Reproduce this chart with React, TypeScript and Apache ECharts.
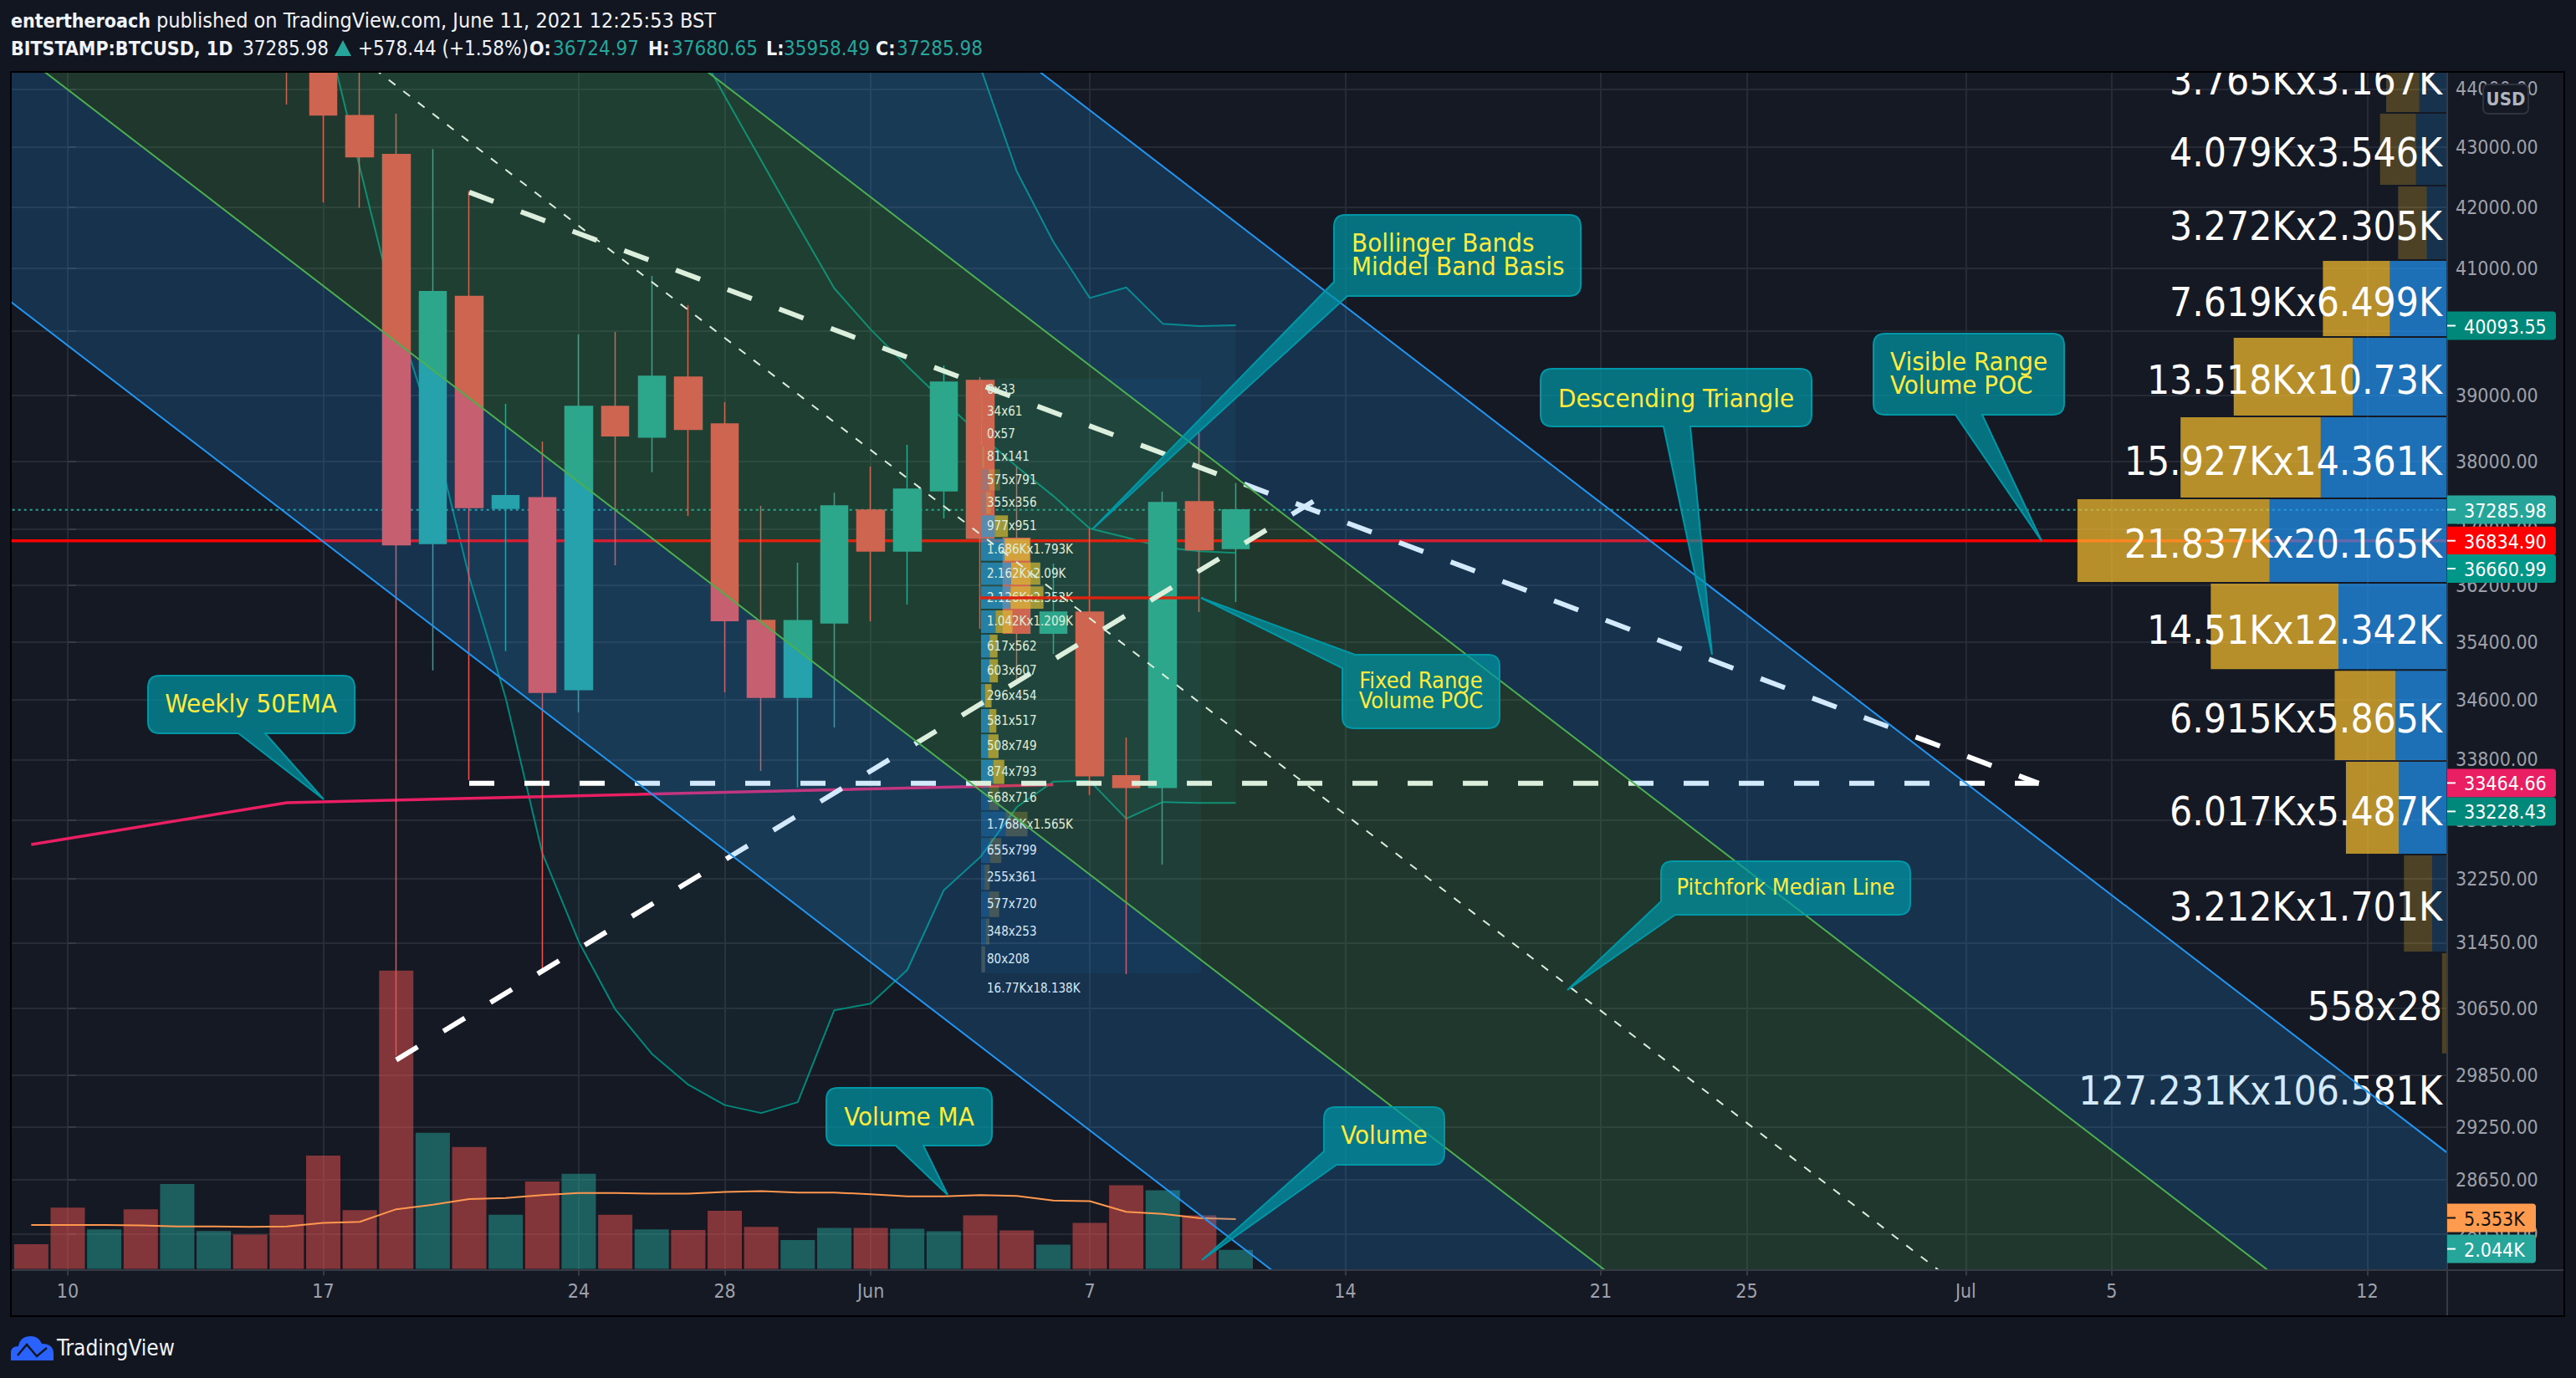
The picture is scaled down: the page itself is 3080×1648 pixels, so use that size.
import React, { useEffect, useRef } from "react";
import * as echarts from "echarts";

const FONT = "DejaVu Sans Condensed, DejaVu Sans, sans-serif";

// x axis: days counted from 10 May 2021
const xTickDays = [0, 7, 14, 18, 22, 28, 35, 42, 46, 52, 56, 63];
const xTickLabels = ["10", "17", "24", "28", "Jun", "7", "14", "21", "25", "Jul", "5", "12"];
const priceTicks = [44000, 43000, 42000, 41000, 40000, 39000, 38000, 37000, 36200, 35400, 34600, 33800, 33000, 32250, 31450, 30650, 29850, 29250, 28650, 28050];
const priceTickLabels = [44000, 43000, 42000, 41000, 39000, 38000, 37000, 36200, 35400, 34600, 33800, 33000, 32250, 31450, 30650, 29850, 29250, 28650, 28050];

// candles
const candleDays = [6, 7, 8, 9, 10, 11, 12, 13, 14, 15, 16, 17, 18, 19, 20, 21, 22, 23, 24, 25, 26, 27, 28, 29, 30, 31, 32];
const opens = [46700, 46400, 43540, 42878, 36795, 40552, 37307, 37466, 34740, 38835, 38369, 39285, 38568, 35700, 34636, 35665, 37283, 36687, 37565, 39233, 36873, 35522, 35817, 33583, 33429, 37405, 36724.97];
const highs = [49000, 46650, 45700, 43573, 42972, 42266, 38874, 38303, 39948, 39987, 40879, 40410, 38899, 37344, 36519, 37540, 37926, 38253, 39467, 39285, 37926, 36507, 37015, 34093, 37553, 38442, 37680.65];
const lows = [43730, 42080, 41990, 30086, 35006, 33530, 35272, 31120, 34431, 36483, 37843, 37198, 34705, 33649, 33429, 34227, 35687, 35924, 37161, 35581, 34840, 35233, 33330, 31063, 32430, 35817, 35958.49];
const closes = [46400, 43550, 42840, 36778, 40627, 37320, 37494, 34705, 38835, 38386, 39298, 38487, 35696, 34636, 35696, 37344, 36687, 37590, 39207, 36873, 35522, 35817, 33583, 33429, 37393, 36704, 37285.98];

// volume
const volumeDays = [-1, 0, 1, 2, 3, 4, 5, 6, 7, 8, 9, 10, 11, 12, 13, 14, 15, 16, 17, 18, 19, 20, 21, 22, 23, 24, 25, 26, 27, 28, 29, 30, 31, 32];
const volumeValues = [2666, 6584, 4245, 6420, 9142, 4080, 3700, 5822, 12190, 6312, 32105, 14640, 13112, 5822, 9414, 10230, 5822, 4245, 4190, 6258, 4516, 3100, 4410, 4410, 4320, 4050, 5760, 4140, 2610, 4950, 9000, 8460, 5760, 2044];
const volumeSides = "rrgrggrrrrrgrgrgrgrrrggrggrrgrrgrg".split("");
const volumeMA = [4734, 4734, 4734, 4680, 4570, 4570, 4516, 4570, 4950, 5060, 6420, 6910, 7510, 7620, 7944, 8160, 8160, 8107, 8107, 8270, 8380, 8216, 8216, 8040, 7800, 7800, 7950, 7860, 7350, 7290, 6150, 5910, 5460, 5353];

// bollinger bands
const bbDays = [7, 8, 9, 10, 11, 12, 13, 14, 15, 16, 17, 18, 19, 20, 21, 22, 23, 24, 25, 26, 27, 28, 29, 30, 31, 32];
const bbUpper = [65000, 66000, 67000, 66500, 65500, 65000, 64000, 62000, 60000, 57000, 55000, 53000, 51500, 50000, 49000, 48000, 47500, 47000, 44382, 42594, 41434, 40526, 40694, 40118, 40079, 40093.55];
const bbBasis = [55500, 54500, 53500, 52500, 51500, 50500, 49500, 48400, 47320, 46170, 45030, 43875, 42776, 41706, 40681, 40026, 39454, 38912, 38404, 37926, 37491, 37015, 36885, 36742, 36683, 36660.99];
const bbLower = [45266, 42664, 40260, 38492, 36314, 34625, 32580, 31463, 30636, 30106, 29742, 29504, 29412, 29538, 30626, 30706, 31115, 32105, 32526, 33172, 33506, 33517, 33021, 33239, 33228, 33228.43];

// weekly EMA
const emaDays = [-1, 6, 13, 20, 27];
const emaValues = [32687, 33231, 33310, 33390, 33464.66];

// pitchfork
const forkDays = [-2, 66];
const forkLowerOuter = [40663, 19215];
const forkLowerInner = [44968, 21249];
const forkMedian = [49735, 23502];
const forkUpperInner = [54936, 25959];
const forkUpperOuter = [60734, 28699];

// drawn lines
const fallingDays = [11, 54];
const fallingPrices = [42247, 33484];
const flatDays = [11, 54];
const flatPrices = [33484, 33484];
const risingDays = [9, 34.14];
const risingPrices = [30033, 37417];
const lastPrice = 37285.98;
const visiblePOC = 36834.9;
const fixedPOC = 36019;
const fixedPOCDays = [25, 31];

// visible range volume profile
const visibleEdges = [44810, 43586, 42358, 41135, 39909, 38682, 37455, 36231, 35012, 33781, 32559, 31331, 30100];
const visibleUp = [3167, 3546, 2305, 6499, 10730, 14361, 20165, 12342, 5865, 5487, 1701, 28];
const visibleDown = [3765, 4079, 3272, 7619, 13518, 15927, 21837, 14510, 6915, 6017, 3212, 558];
const visibleLabels = ["3.765Kx3.167K", "4.079Kx3.546K", "3.272Kx2.305K", "7.619Kx6.499K", "13.518Kx10.73K", "15.927Kx14.361K", "21.837Kx20.165K", "14.51Kx12.342K", "6.915Kx5.865K", "6.017Kx5.487K", "3.212Kx1.701K", "558x28"];
const visibleBright = [0, 0, 0, 1, 1, 1, 1, 1, 1, 1, 0, 0];
const visibleTotal = "127.231Kx106.581K";
const visibleTotalPrice = 29674;

// fixed range volume profile
const fixedEdges = [39265, 38924, 38583, 38241, 37900, 37559, 37218, 36877, 36535, 36194, 35853, 35512, 35171, 34829, 34488, 34147, 33806, 33465, 33123, 32782, 32441, 32100, 31759, 31417, 31076];
const fixedUp = [0, 34, 0, 81, 575, 355, 977, 1686, 2162, 2126, 1042, 617, 603, 296, 581, 508, 874, 568, 1768, 655, 255, 577, 348, 80];
const fixedDown = [33, 61, 57, 141, 791, 356, 951, 1793, 2090, 2352, 1209, 562, 607, 454, 517, 749, 793, 716, 1565, 799, 361, 720, 253, 208];
const fixedLabels = ["0x33", "34x61", "0x57", "81x141", "575x791", "355x356", "977x951", "1.686Kx1.793K", "2.162Kx2.09K", "2.126Kx2.352K", "1.042Kx1.209K", "617x562", "603x607", "296x454", "581x517", "508x749", "874x793", "568x716", "1.768Kx1.565K", "655x799", "255x361", "577x720", "348x253", "80x208"];
const fixedBright = [0, 0, 0, 0, 0, 0, 1, 1, 1, 1, 1, 1, 1, 1, 1, 1, 1, 0, 0, 0, 0, 0, 0, 0];
const fixedTotal = "16.77Kx18.138K";
const fixedTotalPrice = 30890;
const fixedBoxVolume = 15780;

// price tags
const tagTexts = ["40093.55", "37285.98", "36834.90", "36660.99", "33464.66", "33228.43", "5.353K", "2.044K"];
const tagColors = ["#00897b", "#26a69a", "#ff0000", "#009688", "#e91e63", "#00897b", "#ff9b4e", "#26a69a"];
const tagInk = ["#fff", "#fff", "#fff", "#fff", "#fff", "#fff", "#111", "#fff"];
const tagY = [389.5, 609.5, 646.7, 680, 936.4, 970.4, 1456.5, 1493.6];
const tagRight = [3056, 3056, 3056, 3056, 3056, 3056, 3032, 3032];

// chart layout
const PX = { left: 14, top: 87, width: 2912, height: 1432 };
const xMin = -1.535;
const xMax = 65.19;
const priceTop = 44280;
const priceBottom = 27650;

type Note = {
  kind: "bottom" | "corner" | "top";
  box: number[];
  a: number[];
  b: number[];
  tip: number[];
  lines: string[];
  ty: number[];
  tx: number;
  align: string;
  size: number;
};

const notes: Note[] = [
  { kind: "bottom", box: [177, 808, 424, 877], a: [285, 877], b: [317, 877], tip: [387, 956], lines: ["Weekly 50EMA"], ty: [841], tx: 300, align: "center", size: 31 },
  { kind: "corner", box: [1595, 257, 1890, 354], a: [1595, 337], b: [1611, 354], tip: [1306, 633], lines: ["Bollinger Bands", "Middel Band Basis"], ty: [290, 318], tx: 1616, align: "left", size: 31 },
  { kind: "bottom", box: [1842, 441, 2166, 510], a: [1989, 510], b: [2021, 510], tip: [2047, 783], lines: ["Descending Triangle"], ty: [476], tx: 2004, align: "center", size: 31 },
  { kind: "bottom", box: [2240, 399, 2468, 496], a: [2338, 496], b: [2370, 496], tip: [2441, 647], lines: ["Visible Range", "Volume POC"], ty: [432, 460], tx: 2260, align: "left", size: 31 },
  { kind: "top", box: [1605, 783, 1793, 871], a: [1620, 783], b: [1605, 799], tip: [1436, 715], lines: ["Fixed Range", "Volume POC"], ty: [813, 837], tx: 1699, align: "center", size: 27 },
  { kind: "corner", box: [1986, 1030, 2284, 1094], a: [1986, 1078], b: [2003, 1094], tip: [1874, 1184], lines: ["Pitchfork Median Line"], ty: [1060], tx: 2135, align: "center", size: 27 },
  { kind: "bottom", box: [988, 1301, 1186, 1370], a: [1071, 1370], b: [1104, 1370], tip: [1133, 1429], lines: ["Volume MA"], ty: [1335], tx: 1087, align: "center", size: 31 },
  { kind: "corner", box: [1583, 1324, 1727, 1393], a: [1583, 1377], b: [1598, 1393], tip: [1437, 1507], lines: ["Volume"], ty: [1357], tx: 1655, align: "center", size: 31 },
];

const notePath = (n: Note) => {
  const [x0, y0, x1, y1] = n.box;
  const r = 14;
  const right = `L${x1 - r} ${y0} Q${x1} ${y0} ${x1} ${y0 + r} L${x1} ${y1 - r} Q${x1} ${y1} ${x1 - r} ${y1} `;
  if (n.kind === "bottom") {
    return `M${x0 + r} ${y0} ${right}L${n.b[0]} ${y1} L${n.tip[0]} ${n.tip[1]} L${n.a[0]} ${y1} L${x0 + r} ${y1} Q${x0} ${y1} ${x0} ${y1 - r} L${x0} ${y0 + r} Q${x0} ${y0} ${x0 + r} ${y0} Z`;
  }
  if (n.kind === "corner") {
    return `M${x0 + r} ${y0} ${right}L${n.b[0]} ${y1} L${n.tip[0]} ${n.tip[1]} L${x0} ${n.a[1]} L${x0} ${y0 + r} Q${x0} ${y0} ${x0 + r} ${y0} Z`;
  }
  return `M${n.a[0]} ${y0} ${right}L${x0 + r} ${y1} Q${x0} ${y1} ${x0} ${y1 - r} L${x0} ${n.b[1]} L${n.tip[0]} ${n.tip[1]} Z`;
};

notes.forEach((n, i) => {
  echarts.graphic.registerShape(`note${i}`, echarts.graphic.extendPath(notePath(n), {}));
});
echarts.graphic.registerShape(
  "tvCloud",
  echarts.graphic.extendPath("M13 1627 L13 1618 Q13 1610 22 1610 Q24 1598 37 1598 Q46 1598 50 1607 Q64 1607 64 1619 L64 1627 Z", {})
);

const ln = (p: number) => Math.log(p);
const zip = (xs: number[], ps: number[]) => xs.map((x, i) => [x, ln(ps[i])]);

const lineSeries = (name: string, xs: number[], ps: number[], color: string, width: number, z: number, type: any = "solid") => ({
  name,
  type: "line",
  data: zip(xs, ps),
  showSymbol: false,
  symbol: "none",
  silent: true,
  z,
  lineStyle: { color, width, type },
});

const txt = (text: string, x: number, y: number, fill: string, font: string, align = "left") => ({
  type: "text",
  silent: true,
  z: 100,
  style: { text, x, y, fill, font, align, verticalAlign: "middle", textAlign: align, textVerticalAlign: "middle" },
});

const forkBands = [
  [forkLowerOuter, forkLowerInner, "rgba(33,150,243,0.2)"],
  [forkLowerInner, forkMedian, "rgba(76,175,80,0.2)"],
  [forkMedian, forkUpperInner, "rgba(76,175,80,0.2)"],
  [forkUpperInner, forkUpperOuter, "rgba(33,150,243,0.2)"],
] as any[];

const buildOption = (): any => {
  const splitLine = { show: true, lineStyle: { color: "#272b36", width: 2 } };
  const noAxis = { show: false, splitLine: { show: false }, axisLabel: { show: false }, axisTick: { show: false }, axisLine: { show: false } };

  const series: any[] = [
    // Bollinger fill
    {
      type: "custom",
      name: "BB fill",
      clip: true,
      silent: true,
      z: 2,
      data: [[0, 0]],
      encode: { x: 0, y: 1 },
      renderItem: (_: any, api: any) => ({
        type: "polygon",
        shape: {
          points: [
            ...bbDays.map((d, i) => api.coord([d, ln(bbUpper[i])])),
            ...bbDays.map((d, i) => api.coord([d, ln(bbLower[i])])).reverse(),
          ],
        },
        style: { fill: "rgba(38,166,154,0.07)" },
      }),
    },
    lineSeries("BB upper", bbDays, bbUpper, "#00897b", 2, 2),
    lineSeries("BB basis", bbDays, bbBasis, "#00897b", 2, 2),
    lineSeries("BB lower", bbDays, bbLower, "#00897b", 2, 2),
    // Volume
    {
      type: "bar",
      name: "Volume",
      yAxisIndex: 1,
      barWidth: 41,
      silent: true,
      z: 2,
      data: volumeDays.map((d, i) => ({
        value: [d, volumeValues[i]],
        itemStyle: { color: volumeSides[i] === "g" ? "rgba(38,166,154,0.5)" : "rgba(239,83,80,0.5)" },
      })),
    },
    {
      type: "line",
      name: "Volume MA",
      yAxisIndex: 1,
      showSymbol: false,
      symbol: "none",
      silent: true,
      z: 3,
      data: volumeDays.map((d, i) => [d, volumeMA[i]]),
      lineStyle: { color: "#ff984e", width: 2 },
    },
    // Candles
    {
      type: "candlestick",
      name: "BTCUSD",
      barWidth: 33,
      silent: true,
      z: 3,
      data: candleDays.map((d, i) => [d, ln(opens[i]), ln(closes[i]), ln(lows[i]), ln(highs[i])]),
      itemStyle: { color: "#26a69a", color0: "#ef5350", borderColor: "#26a69a", borderColor0: "#ef5350", borderWidth: 1.5 },
    },
    lineSeries("Weekly 50EMA", emaDays, emaValues, "#e91e63", 3.5, 3),
    lineSeries("Last price", forkDays, [lastPrice, lastPrice], "#26a69a", 2, 3, [3, 4]),
    lineSeries("Visible POC", forkDays, [visiblePOC, visiblePOC], "#ff0000", 3.5, 3),
    lineSeries("Fixed POC", fixedPOCDays, [fixedPOC, fixedPOC], "#ff0000", 3.5, 4),
    lineSeries("Falling", fallingDays, fallingPrices, "#ffffff", 6, 4, [31, 35]),
    lineSeries("Flat", flatDays, flatPrices, "#ffffff", 6, 4, [30, 36]),
    lineSeries("Rising", risingDays, risingPrices, "#ffffff", 6, 4, [30, 36]),
    lineSeries("Median", forkDays, forkMedian, "#ffffff", 2, 4, [10, 12]),
    // Visible range profile
    {
      type: "custom",
      name: "Visible range",
      xAxisIndex: 1,
      clip: true,
      silent: true,
      z: 4,
      data: visibleUp.map((_, i) => [i, i]),
      encode: { x: 0, y: 1 },
      renderItem: (p: any, api: any) => {
        const i = p.dataIndex;
        const top = api.coord([0, ln(visibleEdges[i])])[1] + 1;
        const bot = api.coord([0, ln(visibleEdges[i + 1])])[1] - 1;
        const x0 = api.coord([0, 0])[0];
        const x1 = api.coord([visibleUp[i], 0])[0];
        const x2 = api.coord([visibleUp[i] + visibleDown[i], 0])[0];
        const bright = visibleBright[i];
        return {
          type: "group",
          children: [
            { type: "rect", shape: { x: x1, y: top, width: x0 - x1, height: bot - top }, style: { fill: bright ? "rgba(33,150,243,0.7)" : "rgba(33,150,243,0.2)" } },
            { type: "rect", shape: { x: x2, y: top, width: x1 - x2, height: bot - top }, style: { fill: bright ? "rgba(251,192,45,0.7)" : "rgba(251,192,45,0.25)" } },
            { type: "text", style: { text: visibleLabels[i], x: x0 - 6, y: (top + bot) / 2 + 4, fill: "#fff", font: `47.5px ${FONT}`, align: "right", verticalAlign: "middle", textAlign: "right", textVerticalAlign: "middle" } },
          ],
        };
      },
    },
    {
      type: "custom",
      name: "Visible total",
      xAxisIndex: 1,
      clip: true,
      silent: true,
      z: 4,
      data: [[0, 0]],
      encode: { x: 0, y: 1 },
      renderItem: (_: any, api: any) => {
        const c = api.coord([0, ln(visibleTotalPrice)]);
        return { type: "text", style: { text: visibleTotal, x: c[0] - 6, y: c[1], fill: "#fff", font: `47.5px ${FONT}`, align: "right", verticalAlign: "middle", textAlign: "right", textVerticalAlign: "middle" } };
      },
    },
    // Fixed range profile
    {
      type: "custom",
      name: "Fixed range box",
      xAxisIndex: 2,
      clip: true,
      silent: true,
      z: 3,
      data: [[0, 0]],
      encode: { x: 0, y: 1 },
      renderItem: (_: any, api: any) => {
        const a = api.coord([0, ln(fixedEdges[0])]);
        const b = api.coord([fixedBoxVolume, ln(fixedEdges[fixedEdges.length - 1])]);
        return { type: "rect", shape: { x: a[0], y: a[1], width: b[0] - a[0], height: b[1] - a[1] }, style: { fill: "rgba(33,150,243,0.07)" } };
      },
    },
    {
      type: "custom",
      name: "Fixed range",
      xAxisIndex: 2,
      clip: true,
      silent: true,
      z: 4,
      data: fixedUp.map((_, i) => [i, i]),
      encode: { x: 0, y: 1 },
      renderItem: (p: any, api: any) => {
        const i = p.dataIndex;
        const top = api.coord([0, ln(fixedEdges[i])])[1] + 1;
        const bot = api.coord([0, ln(fixedEdges[i + 1])])[1] - 1;
        const x0 = api.coord([0, 0])[0];
        const x1 = api.coord([fixedUp[i], 0])[0];
        const x2 = api.coord([fixedUp[i] + fixedDown[i], 0])[0];
        const bright = fixedBright[i];
        return {
          type: "group",
          children: [
            { type: "rect", shape: { x: x0, y: top, width: x1 - x0, height: bot - top }, style: { fill: bright ? "rgba(33,150,243,0.7)" : "rgba(33,150,243,0.25)" } },
            { type: "rect", shape: { x: x1, y: top, width: x2 - x1, height: bot - top }, style: { fill: bright ? "rgba(251,192,45,0.7)" : "rgba(251,192,45,0.25)" } },
            { type: "text", style: { text: fixedLabels[i], x: x0 + 7, y: (top + bot) / 2, fill: "#fff", font: `15px ${FONT}`, align: "left", verticalAlign: "middle", textAlign: "left", textVerticalAlign: "middle" } },
          ],
        };
      },
    },
    {
      type: "custom",
      name: "Fixed total",
      xAxisIndex: 2,
      clip: true,
      silent: true,
      z: 4,
      data: [[0, 0]],
      encode: { x: 0, y: 1 },
      renderItem: (_: any, api: any) => {
        const c = api.coord([0, ln(fixedTotalPrice)]);
        return { type: "text", style: { text: fixedTotal, x: c[0] + 7, y: c[1], fill: "#fff", font: `15px ${FONT}`, align: "left", verticalAlign: "middle", textAlign: "left", textVerticalAlign: "middle" } };
      },
    },
    // Pitchfork on top of everything in the pane
    {
      type: "custom",
      name: "Pitchfork",
      clip: true,
      silent: true,
      z: 6,
      data: forkBands.map((_, i) => [i, i]),
      encode: { x: 0, y: 1 },
      renderItem: (p: any, api: any) => {
        const [lo, hi, fill] = forkBands[p.dataIndex];
        const pts = [
          api.coord([forkDays[0], ln(lo[0])]),
          api.coord([forkDays[1], ln(lo[1])]),
          api.coord([forkDays[1], ln(hi[1])]),
          api.coord([forkDays[0], ln(hi[0])]),
        ];
        return { type: "polygon", shape: { points: pts }, style: { fill } };
      },
    },
    lineSeries("Fork lower outer", forkDays, forkLowerOuter, "#2196f3", 2, 7),
    lineSeries("Fork lower inner", forkDays, forkLowerInner, "#4caf50", 2, 7),
    lineSeries("Fork upper inner", forkDays, forkUpperInner, "#4caf50", 2, 7),
    lineSeries("Fork upper outer", forkDays, forkUpperOuter, "#2196f3", 2, 7),
  ];

  const graphic: any[] = [
    { type: "rect", silent: true, z: -10, shape: { x: 13, y: 86, width: 3053, height: 1488 }, style: { fill: "#151924" } },
    // header strip: candles taller than the pane stop at its top edge
    { type: "rect", silent: true, z: 91, shape: { x: 0, y: 0, width: 3080, height: 86 }, style: { fill: "#121620" } },
    { type: "rect", silent: true, z: 95, shape: { x: 13, y: 86, width: 3053, height: 1488 }, style: { fill: "none", stroke: "#000", lineWidth: 2 } },
    { type: "line", silent: true, z: 90, shape: { x1: 14, y1: 1519, x2: 3066, y2: 1519 }, style: { stroke: "#363a45", lineWidth: 2 } },
    { type: "line", silent: true, z: 90, shape: { x1: 2926, y1: 87, x2: 2926, y2: 1574 }, style: { stroke: "#363a45", lineWidth: 2 } },
    // header
    txt("entertheroach", 13, 24.5, "#f0f3fa", `bold 23px ${FONT}`),
    txt("published on TradingView.com, June 11, 2021 12:25:53 BST", 187, 24.5, "#f0f3fa", `25px ${FONT}`),
    txt("BITSTAMP:BTCUSD, 1D", 13, 58, "#f0f3fa", `bold 23px ${FONT}`),
    txt("37285.98", 290, 58, "#f0f3fa", `24px ${FONT}`),
    { type: "polygon", silent: true, z: 100, shape: { points: [[410, 48], [420, 67], [400, 67]] }, style: { fill: "#26a69a" } },
    txt("+578.44 (+1.58%)", 428, 58, "#f0f3fa", `24px ${FONT}`),
    txt("O:", 633, 58, "#f0f3fa", `bold 23px ${FONT}`),
    txt("36724.97", 661, 58, "#26a69a", `24px ${FONT}`),
    txt("H:", 775, 58, "#f0f3fa", `bold 23px ${FONT}`),
    txt("37680.65", 803, 58, "#26a69a", `24px ${FONT}`),
    txt("L:", 916, 58, "#f0f3fa", `bold 23px ${FONT}`),
    txt("35958.49", 937, 58, "#26a69a", `24px ${FONT}`),
    txt("C:", 1047, 58, "#f0f3fa", `bold 23px ${FONT}`),
    txt("37285.98", 1072, 58, "#26a69a", `24px ${FONT}`),
    // USD
    { type: "rect", silent: true, z: 92, shape: { x: 2969, y: 101, width: 54, height: 35, r: 6 }, style: { fill: "#151924", stroke: "#2f3340", lineWidth: 2 } },
    txt("USD", 2996, 118.5, "#b2b5be", `bold 22px ${FONT}`, "center"),
    // footer
    { type: "tvCloud", silent: true, z: 100, x: 0, y: 0, style: { fill: "#2962ff" } },
    { type: "polyline", silent: true, z: 101, shape: { points: [[21, 1621], [32, 1608], [44, 1622], [56, 1612]] }, style: { fill: "none", stroke: "#131722", lineWidth: 2.5 } },
    txt("TradingView", 68, 1612, "#f0f3fa", `26px ${FONT}`),
  ];

  tagTexts.forEach((t, i) => {
    graphic.push({
      type: "rect",
      silent: true,
      z: 93,
      shape: { x: 2926, y: tagY[i] - 17, width: tagRight[i] - 2926, height: 34, r: [0, 4, 4, 0] },
      style: { fill: tagColors[i] },
    });
    graphic.push({ type: "line", silent: true, z: 94, shape: { x1: 2926, y1: tagY[i], x2: 2936, y2: tagY[i] }, style: { stroke: tagInk[i], lineWidth: 2 } });
    graphic.push(txt(t, 2946, tagY[i] + 1, tagInk[i], `23px ${FONT}`));
  });

  notes.forEach((n, i) => {
    graphic.push({
      type: `note${i}`,
      silent: true,
      z: 96,
      x: 0,
      y: 0,
      style: { fill: "rgba(0,151,167,0.7)", stroke: "#0097a7", lineWidth: 2 },
    });
    n.lines.forEach((l, k) => graphic.push(txt(l, n.tx, n.ty[k], "#ffeb3b", `${n.size}px ${FONT}`, n.align)));
  });

  return {
    animation: false,
    backgroundColor: "#121620",
    textStyle: { fontFamily: FONT },
    grid: { left: PX.left, top: PX.top, width: PX.width, height: PX.height, show: false },
    xAxis: [
      {
        type: "value",
        min: xMin,
        max: xMax,
        splitLine,
        axisLine: { show: false },
        axisTick: { show: true, length: 8, customValues: xTickDays, lineStyle: { color: "#363a45", width: 2 } },
        axisLabel: {
          customValues: xTickDays,
          color: "#9ea1ab",
          fontSize: 23,
          fontFamily: FONT,
          margin: 13,
          formatter: (v: number) => xTickLabels[xTickDays.indexOf(v)] ?? "",
        },
      },
      { type: "value", inverse: true, min: 0, max: PX.width * 95, ...noAxis },
      { type: "value", min: -1159 * 60, max: 1753 * 60, ...noAxis },
    ],
    yAxis: [
      {
        type: "value",
        position: "right",
        min: ln(priceBottom),
        max: ln(priceTop),
        splitLine,
        axisLine: { show: false },
        axisTick: { show: true, length: 10, customValues: priceTicks.map(ln), lineStyle: { color: "#363a45", width: 2 } },
        axisLabel: {
          customValues: priceTickLabels.map(ln),
          color: "#9ea1ab",
          fontSize: 23,
          fontFamily: FONT,
          margin: 10,
          formatter: (v: number) => Math.round(Math.exp(v)).toFixed(2),
        },
      },
      { type: "value", min: -135, max: PX.height * 90 - 135, ...noAxis },
    ],
    graphic: { elements: graphic },
    series,
  };
};

export default function App() {
  const ref = useRef<HTMLDivElement>(null);
  useEffect(() => {
    const chart = echarts.init(ref.current!, undefined, { renderer: "svg" });
    chart.setOption(buildOption());
    return () => chart.dispose();
  }, []);
  return <div ref={ref} style={{ position: "absolute", left: 0, top: 0, width: 3080, height: 1648 }} />;
}
